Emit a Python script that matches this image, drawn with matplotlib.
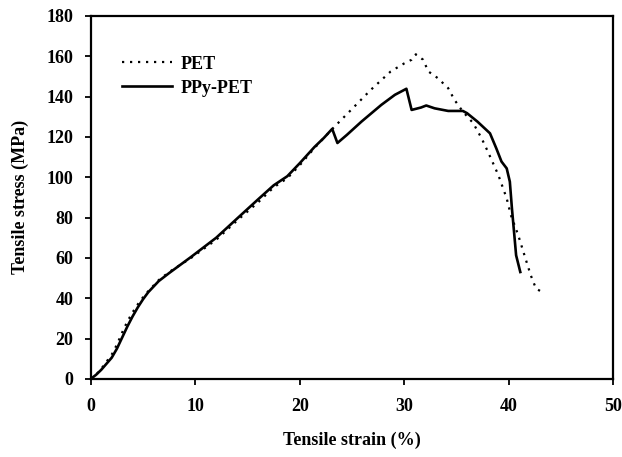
import numpy as np
import matplotlib
matplotlib.use("Agg")
import matplotlib.pyplot as plt

# PPy-PET (solid)
strain_ppy = [0, 0.5, 1, 1.5, 2, 2.5, 3, 3.5, 4, 4.5, 5, 5.5, 6.5, 7.5, 9.6, 12,
              14.1, 16, 17.5, 18.8, 20, 21.4, 22.3, 23.1, 23.6, 24.5, 25.9, 27.8,
              29.1, 30.2, 30.7, 31.6, 32.1, 32.9, 34.2, 35.6, 36.0, 37.0, 38.2,
              38.8, 39.3, 39.8, 40.1, 40.3, 40.5, 40.7, 41.1]
stress_ppy = [0, 2, 4.5, 7.5, 10.5, 15, 20.5, 26, 31, 35.5, 39.5, 43, 48.5, 52.5,
              60.5, 70, 80, 89, 96, 100.5, 107, 115, 119.5, 124, 117, 121, 127.6,
              135.9, 140.9, 143.9, 133.4, 134.6, 135.6, 134.2, 132.9, 132.9, 131.8,
              127.6, 121.8, 114.4, 107.8, 104.4, 97.8, 84.5, 73, 61.3, 53]

# PET (dotted)
strain_pet = [0, 0.5, 1, 1.5, 2, 2.5, 3, 3.5, 4, 4.5, 5, 5.5, 6.5, 7.5, 9.6, 12,
              14.1, 16, 17.5, 18.8, 20, 21.4, 22.3, 23.3, 24.6, 26.8, 28.7, 30.0,
              30.7, 31.1, 31.8, 32.3, 33.2, 34.2, 34.8, 35.6, 36.6, 37.4, 38.0,
              39.0, 39.8, 40.2, 40.9, 41.5, 42.1, 42.6, 43.2]
stress_pet = [0, 2, 5, 8.5, 12, 17, 23, 28.5, 33, 37, 40.5, 43.5, 49, 53, 60, 69,
              79, 87.5, 95, 99.5, 106, 114.5, 119.5, 125, 131.8, 143.4, 152.5, 156.5,
              158.3, 161, 158.3, 152.5, 149.2, 144.2, 138.4, 132.6, 126.8, 119.3,
              112.7, 101.1, 89.5, 81.2, 71.3, 61.3, 51.4, 44.8, 43]

xticks = [0, 10, 20, 30, 40, 50]
yticks = [0, 20, 40, 60, 80, 100, 120, 140, 160, 180]

plt.rcParams['font.family'] = ['Liberation Serif', 'DejaVu Serif']
plt.rcParams['font.weight'] = 'bold'

fig = plt.figure(figsize=(6.22, 4.57), dpi=100)
ax = fig.add_axes([0.146, 0.171, 0.840, 0.794])

ax.plot(strain_pet, stress_pet, color='black', lw=1.6, linestyle=(0, (1, 2.6)),
        label='PET')
ax.plot(strain_ppy, stress_ppy, color='black', lw=1.9, label='PPy-PET')

ax.set_xlim(0, 50)
ax.set_ylim(0, 180)
ax.set_xticks(xticks)
ax.set_yticks(yticks)
ax.tick_params(direction='out', length=4.5, width=1.3, labelsize=13, pad=8)
ax.tick_params(axis='x', pad=9)
for s in ax.spines.values():
    s.set_linewidth(1.6)

ax.set_xlabel('Tensile strain (%)', fontsize=13, fontweight='bold', labelpad=12)
ax.set_ylabel('Tensile stress (MPa)', fontsize=13, fontweight='bold', labelpad=13)

ax.legend(loc='upper left', bbox_to_anchor=(0.045, 0.911), frameon=False,
          fontsize=13, handlelength=2.8, handletextpad=0.45, labelspacing=0.4,
          borderaxespad=0)

fig.savefig('out.png', dpi=100)
